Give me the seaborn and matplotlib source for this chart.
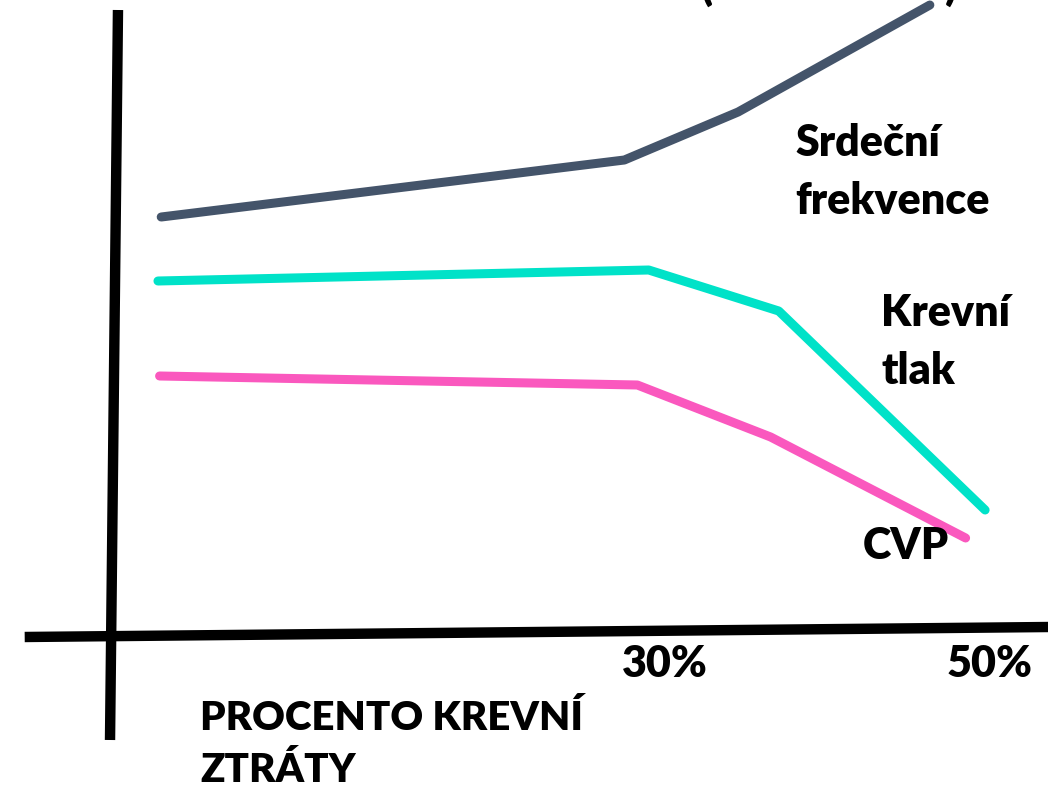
import seaborn as sns
import matplotlib.pyplot as plt

# blood loss in percent, values in arbitrary units
hr_x = [-1.0, 27.5, 34.5, 46.3]
hr_y = [41.5, 47.2, 52.0, 62.7]
bp_x = [-1.2, 29.0, 37.0, 49.7]
bp_y = [35.1, 36.2, 32.1, 12.2]
cvp_x = [-1.1, 28.3, 36.5, 48.5]
cvp_y = [25.6, 24.7, 19.5, 9.4]
tick_pos = [30, 50]
tick_labels = ['30%', '50%']

sns.set_style('white')
plt.rcParams['font.family'] = ['Lato', 'DejaVu Sans']

fig = plt.figure(figsize=(10.48, 7.9), dpi=100)
ax = fig.add_axes([0, 0, 1, 1])
ax.set_xlim(-10.92, 53.57)
ax.set_ylim(-15.8, 63.2)
ax.axis('off')

# hand drawn axes
ax.plot([-9.4, 53.6], [-0.5, 0.5], color='black', lw=7.5, solid_capstyle='butt')
ax.plot([-4.15, -3.66], [-10.8, 62.2], color='black', lw=7.5, solid_capstyle='butt')

sns.lineplot(x=hr_x, y=hr_y, ax=ax, color='#44546A', lw=6.5, solid_capstyle='round', clip_on=False)
sns.lineplot(x=bp_x, y=bp_y, ax=ax, color='#00E2C8', lw=6.5, solid_capstyle='round')
sns.lineplot(x=cvp_x, y=cvp_y, ax=ax, color='#FA58BE', lw=6.5, solid_capstyle='round')

bold = dict(fontweight='heavy', color='black', fontsize=31)
for p, t in zip(tick_pos, tick_labels):
    ax.text(p, -1.2, t, ha='center', va='top', **bold)

ax.text(38.0, 50.9, 'Srdeční\nfrekvence', ha='left', va='top', linespacing=1.55, **bold)
ax.text(43.3, 33.9, 'Krevní\ntlak', ha='left', va='top', linespacing=1.55, **bold)
ax.text(42.2, 10.6, 'CVP', ha='left', va='top', **bold)
ax.text(1.4, -6.8, 'PROCENTO KREVNÍ\nZTRÁTY', ha='left', va='top', linespacing=1.5,
        fontweight='heavy', color='black', fontsize=29)

# top title, cut off by the edge
ax.text(32.6, 64.6, '(', ha='center', va='center', **bold)
ax.text(47.6, 64.6, ')', ha='center', va='center', **bold)

plt.savefig('out.png', dpi=100)
